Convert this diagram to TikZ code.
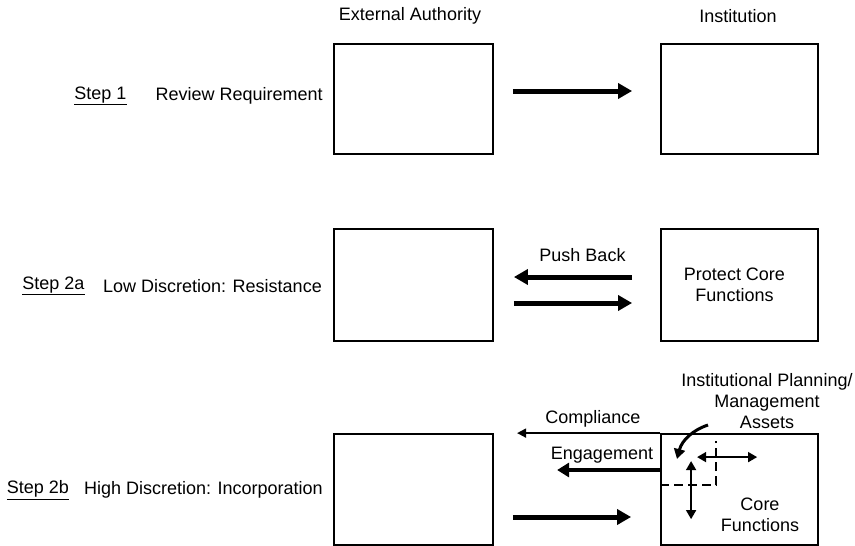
\documentclass[tikz,border=0pt]{standalone}
\usepackage{fontspec}
\setmainfont{Liberation Sans}
\usetikzlibrary{arrows.meta}
\newcommand\dfont{\fontsize{18}{21}\selectfont}
\begin{document}
\begin{tikzpicture}[x=1pt,y=-1pt,
  box/.style={draw, line width=1.8pt, minimum height=110pt, inner sep=0pt, align=center, font=\dfont},
  txt/.style={inner sep=0pt, font=\dfont, align=center},
  bigarrow/.style={line width=5pt, -{Triangle[length=14pt,width=15pt]}},
  engarrow/.style={line width=4.5pt, -{Triangle[length=12pt,width=14pt]}},
  thinarrow/.style={line width=1.8pt, -{Triangle[length=9pt,width=9pt]}},
  dblarrow/.style={line width=1.6pt, {Triangle[length=9pt,width=10pt]}-{Triangle[length=9pt,width=10pt]}},
  curvearrow/.style={line width=3pt, -{Triangle[length=10pt,width=11pt]}},
  dashline/.style={line width=2.6pt, dash pattern=on 9pt off 5pt}]
\useasboundingbox (0,0) rectangle (855,546);

% column headings
\node[txt] (hea) at (410,16) {External Authority};
\node[txt] (hin) at (738,16) {Institution};

% step labels
\node[txt] (s1) at (100.5,96) {\underline{Step 1}};
\node[txt, anchor=east] (d1) at (323,96) {Review Requirement};
\node[txt] (s2a) at (53.5,286) {\underline{Step 2a}};
\node[txt, anchor=east] (d2a) at (322,286) {Low Discretion: Resistance};
\node[txt] (s2b) at (38,490) {\underline{Step 2b}};
\node[txt, anchor=east] (d2b) at (323,490) {High Discretion: Incorporation};

% boxes
\node[box, minimum width=159pt] (ea1) at (413.5,99) {};
\node[box, minimum width=157pt] (in1) at (739.5,99) {};
\node[box, minimum width=159pt, minimum height=112pt] (ea2) at (413.5,285) {};
\node[box, minimum width=157pt, minimum height=112pt] (in2) at (739.5,285) {\hspace*{-10pt}Protect Core\\\hspace*{-10pt}Functions};
\node[box, minimum width=159pt, minimum height=111pt] (ea3) at (413.5,489.5) {};
\node[box, minimum width=157pt, minimum height=111pt] (in3) at (739.5,489.5) {};

% step 1
\draw[bigarrow] ([xshift=19pt,yshift=8pt]ea1.east) -- ([xshift=-28pt,yshift=8pt]in1.west);

% step 2a
\node[txt] (pb) at (582.5,255) {Push Back};
\draw[bigarrow] ([xshift=-28pt,yshift=8pt]in2.west) -- ([xshift=20pt,yshift=8pt]ea2.east);
\draw[bigarrow] ([xshift=20pt,yshift=-18pt]ea2.east) -- ([xshift=-28pt,yshift=-18pt]in2.west);

% step 2b
\node[txt] (comp) at (593,419) {Compliance};
\node[txt] (eng) at (602,455) {Engagement};
\node[txt] (ipm) at (767,401) {Institutional Planning/\\Management\\Assets};
\node[txt] (core) at (760,515) {Core\\Functions};

\coordinate (compend) at ([xshift=-143pt]in3.north west);
\draw[thinarrow] (in3.north west) -- (compend);
\draw[engarrow] ([yshift=19.5pt]in3.west) -- ([xshift=-103pt,yshift=19.5pt]in3.west);
\draw[bigarrow] ([xshift=19pt,yshift=-27.5pt]ea3.east) -- ([xshift=-29pt,yshift=-27.5pt]in3.west);

\draw[dashline] ([yshift=-52pt]in3.north west) -| ([xshift=56pt,yshift=-8pt]in3.north west);
\draw[dblarrow] ([xshift=37pt,yshift=-24pt]in3.north west) -- ([xshift=97pt,yshift=-24pt]in3.north west);
\draw[dblarrow] ([xshift=31pt,yshift=-28pt]in3.north west) -- ([xshift=31pt,yshift=-86pt]in3.north west);

\coordinate (cstart) at (708,425);
\coordinate (cend) at (677,459);
\draw[curvearrow] (cstart) .. controls (693,430) and (682,440) .. (cend);
\end{tikzpicture}
\end{document}
